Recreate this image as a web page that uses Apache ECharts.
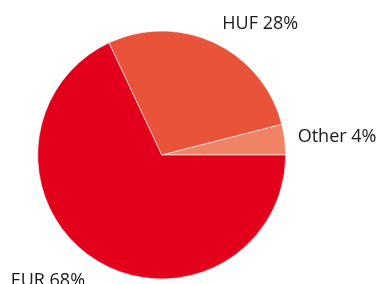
<!DOCTYPE html>
<html>
<head>
<meta charset="utf-8">
<script src="https://cdn.jsdelivr.net/npm/echarts@6/dist/echarts.min.js"></script>
<style>html,body{margin:0;padding:0;background:#fff}#c{width:379px;height:284px}</style>
</head>
<body>
<div id="c"></div>
<script>
var categories = ['Other', 'HUF', 'EUR'];
var values = [4, 28, 68];
var colors = ['#f08366', '#e9533a', '#e2001a'];

var labelTweaks = [
  { length: 5, length2: 3, offset: [0, -2] },
  { length: 23, length2: 0, offset: [-7, 2] },
  { length: 21, length2: 0, offset: [6, 3] }
];

var data = categories.map(function (c, i) {
  return {
    name: c,
    value: values[i],
    itemStyle: { color: colors[i] },
    label: { offset: labelTweaks[i].offset },
    labelLine: { length: labelTweaks[i].length, length2: labelTweaks[i].length2, show: false }
  };
});

var chart = echarts.init(document.getElementById('c'), null, { renderer: 'canvas' });
chart.setOption({
  animation: false,
  series: [{
    type: 'pie',
    center: [161.7, 155],
    radius: 124,
    startAngle: 0,
    clockwise: false,
    avoidLabelOverlap: false,
    itemStyle: { borderColor: 'rgba(255,255,255,0.6)', borderWidth: 1 },
    label: {
      show: true,
      position: 'outside',
      formatter: function (p) { return p.name + ' ' + p.value + '%'; },
      fontFamily: 'Open Sans',
      fontSize: 18,
      color: '#1a1a1a'
    },
    labelLine: { show: false },
    data: data
  }]
});
</script>
</body>
</html>
